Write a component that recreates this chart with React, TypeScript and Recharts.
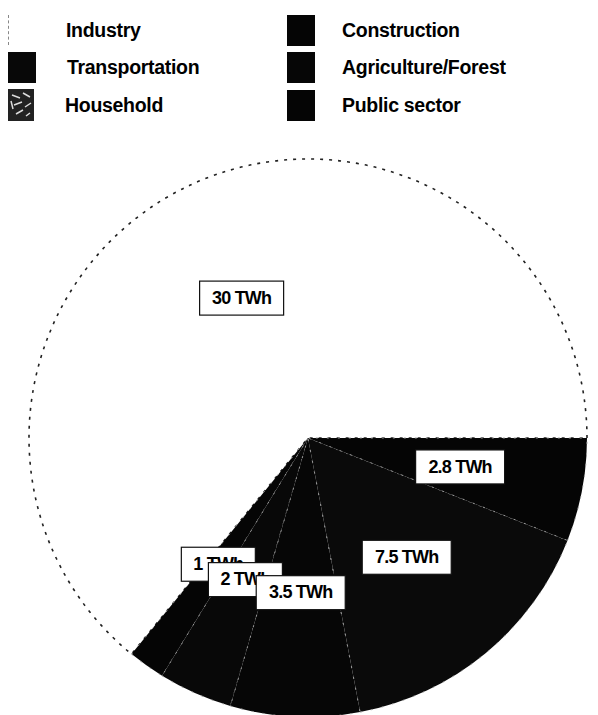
import { PieChart, Pie, Cell } from 'recharts'

// slices in drawing order (counter-clockwise from 3 o'clock)
const sectors = ['Industry', 'Construction', 'Transportation', 'Agriculture/Forest', 'Household', 'Public sector']
const twh = [30, 1, 2, 3.5, 7.5, 2.8]
const fills = ['#ffffff', '#050505', '#080808', '#060606', '#0a0a0a', '#050505']

// legend is laid out row by row, two columns
const legendRows = [
  ['Industry', 'Construction'],
  ['Transportation', 'Agriculture/Forest'],
  ['Household', 'Public sector'],
]

const data = sectors.map((name, i) => ({ name, value: twh[i] }))

const FONT = '"Liberation Sans", Arial, sans-serif'
const RADIAN = Math.PI / 180

// rough Arial Bold advance widths (em)
const charW: Record<string, number> = { '.': 0.278, ' ': 0.278, T: 0.611, W: 0.944, h: 0.611 }
const textWidth = (s: string, size: number) =>
  s.split('').reduce((a, c) => a + (charW[c] ?? 0.556), 0) * size

const renderLabel = (props: any) => {
  const { cx, cy, midAngle, outerRadius, value } = props
  const r = outerRadius * 0.555
  const x = cx + r * Math.cos(-midAngle * RADIAN)
  const y = cy + r * Math.sin(-midAngle * RADIAN)
  const text = `${value} TWh`
  const w = textWidth(text, 18) + 20
  const h = 34
  return (
    <g>
      <rect x={x - w / 2} y={y - h / 2} width={w} height={h} fill="#fff" stroke="#111" strokeWidth={1.2} />
      <text x={x} y={y + 1} textAnchor="middle" dominantBaseline="middle" fontFamily={FONT} fontWeight="bold" fontSize={18} letterSpacing={-0.8} fill="#000">
        {text}
      </text>
    </g>
  )
}

function Swatch({ name }: { name: string }) {
  const i = sectors.indexOf(name)
  if (name === 'Industry') {
    return <div style={{ width: 26, height: 30, background: '#fff', borderLeft: '1px dashed #888' }} />
  }
  if (name === 'Household') {
    return (
      <svg width={26} height={32}>
        <rect width={26} height={32} fill="#222" />
        <path d="M4 6 L12 9 M15 4 L22 8 M6 16 L14 13 M17 18 L23 14 M8 25 L15 21 M18 27 L22 24 M3 12 L5 20" stroke="#ddd" strokeWidth={1.5} />
      </svg>
    )
  }
  return <div style={{ width: 28, height: 31, background: fills[i] }} />
}

export default function App() {
  return (
    <div style={{ position: 'absolute', left: 0, top: 0, width: 598, height: 715, background: '#fff', overflow: 'hidden' }}>
      {legendRows.map((row, r) => (
        row.map((name, c) => (
          <div
            key={name}
            style={{
              position: 'absolute',
              left: c === 0 ? 8 : 287,
              top: 14 + r * 37.5,
              display: 'flex',
              alignItems: 'center',
              height: 32,
              fontFamily: FONT,
              fontWeight: 'bold',
              fontSize: 19.5,
              letterSpacing: -0.3,
              color: '#000',
            }}
          >
            <Swatch name={name} />
            <span style={{ marginLeft: c === 0 ? 31 : 27 }}>{name}</span>
          </div>
        ))
      ))}
      <PieChart width={598} height={715} margin={{ top: 0, right: 0, bottom: 0, left: 0 }} style={{ position: 'absolute', left: 0, top: 0 }}>
        <Pie
          data={data}
          dataKey="value"
          nameKey="name"
          cx={308}
          cy={438}
          outerRadius={279}
          startAngle={0}
          endAngle={360}
          label={renderLabel}
          labelLine={false}
          isAnimationActive={false}
        >
          {data.map((d, i) => (
            <Cell
              key={d.name}
              fill={fills[i]}
              stroke={i === 0 ? '#222' : '#9a9a9a'}
              strokeWidth={i === 0 ? 1.6 : 1}
              strokeDasharray={i === 0 ? '3 6' : '2 9'}
            />
          ))}
        </Pie>
      </PieChart>
    </div>
  )
}
